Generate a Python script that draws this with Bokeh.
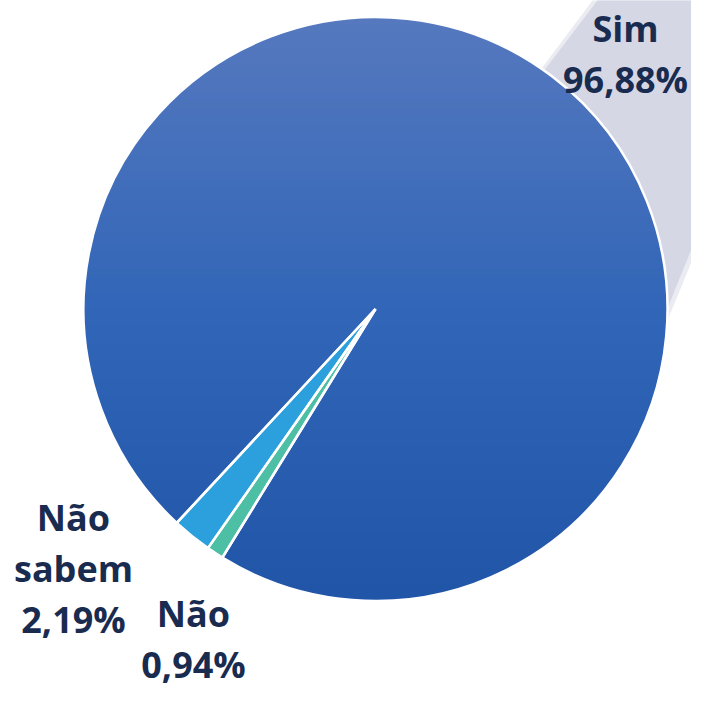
import numpy as np
from bokeh.plotting import figure
from bokeh.models import Range1d
from bokeh.core.properties import value
from bokeh.embed import file_html
from bokeh.resources import INLINE

# ---- data ----
categories = ["Sim", "Não", "Não sabem"]
values = [96.88, 0.94, 2.19]
pct_labels = ["96,88%", "0,94%", "2,19%"]
colors = ["#3366B8", "#4DBFA5", "#2BA0DC"]

# ---- layout ----
W, H = 691, 688
p = figure(width=W, height=H, x_range=Range1d(0, W), y_range=Range1d(-H, 0),
           output_backend="svg", toolbar_location=None, min_border=0)
p.axis.visible = False
p.grid.visible = False
p.outline_line_color = None
p.background_fill_color = "white"
p.border_fill_color = "white"

cx, cy, R = 375.0, -308.5, 292.0
start_deg = 227.1  # rotation of the first slice

# beam / shadow behind the pie (decoration)
p.patch([529, 598, 802, 662, 480], [-84, 8, 8, -332, -332], fill_color="#D7D9E6", fill_alpha=0.5, line_color=None)
p.patch([536, 603, 795, 658, 480], [-80, 8, 8, -330, -330], fill_color="#D5D7E4", line_color=None)

total = sum(values)
spans = [v / total * 2 * np.pi for v in values]
cum = np.concatenate([[0.0], np.cumsum(spans)])
a0 = np.deg2rad(start_deg)
hi = [a0 - cum[i] for i in range(len(values))]
lo = [a0 - cum[i + 1] for i in range(len(values))]

# filled wedges
p.wedge(x=[cx] * 3, y=[cy] * 3, radius=R, start_angle=lo, end_angle=hi,
        fill_color=colors, line_color=None)

# gradient overlay for the "Sim" slice
n = int(2 * R + 2)
x0, y0 = cx - R - 1, cy - R - 1
xs = x0 + np.arange(n) + 0.5
ys = y0 + np.arange(n) + 0.5
X, Y = np.meshgrid(xs, ys)
dist = np.hypot(X - cx, Y - cy)
alpha = np.clip(R - dist + 0.5, 0, 1)
theta = np.arctan2(Y - cy, X - cx)
rel = np.mod(theta - lo[0], 2 * np.pi)
alpha = np.where(rel <= spans[0], alpha, 0.0)
sy = -Y
t = np.clip((sy - (-cy - R)) / (2 * R), 0, 1)
stops_t = [0.0, 0.5, 1.0]
stops_c = [(86, 121, 191), (50, 102, 184), (33, 85, 168)]
img = np.empty((n, n), dtype=np.uint32)
view = img.view(dtype=np.uint8).reshape((n, n, 4))
for k in range(3):
    view[:, :, k] = np.interp(t, stops_t, [c[k] for c in stops_c]).astype(np.uint8)
view[:, :, 3] = (alpha * 255).astype(np.uint8)
p.image_rgba(image=[img], x=x0, y=y0, dw=n, dh=n)

# white outlines
p.wedge(x=[cx] * 3, y=[cy] * 3, radius=R, start_angle=lo, end_angle=hi,
        fill_color=None, line_color="white", line_width=2.5)

# labels (baseline positions, corrected for renderer offset)
label_x = [625, 193, 73]
label_first_baseline = [43, 628, 532]
line_step = 51
baseline_fix = 15
tx, ty, tt = [], [], []
for i, cat in enumerate(categories):
    lines = cat.split(" ") + [pct_labels[i]]
    for j, ln in enumerate(lines):
        tx.append(label_x[i])
        ty.append(-(label_first_baseline[i] + j * line_step - baseline_fix))
        tt.append(ln)
p.text(x=tx, y=ty, text=tt, text_font=value("Open Sans"), text_font_style="bold",
       text_font_size="36px", text_color="#1A2B50", text_align="center",
       text_baseline="alphabetic")

open("out.html", "w").write(file_html(p, INLINE))
